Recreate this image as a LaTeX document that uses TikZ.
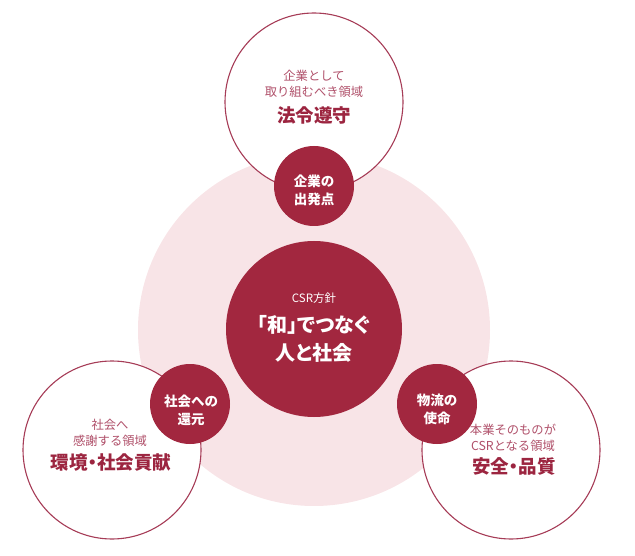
\documentclass[tikz,border=0pt]{standalone}
\usepackage{fontspec}
\setmainfont{Noto Sans CJK JP}
\newfontfamily\jpprop[RawFeature=+palt]{Noto Sans CJK JP}
\definecolor{darkred}{HTML}{A2273F}
\definecolor{pinkbg}{HTML}{F8E4E7}
\definecolor{ringline}{HTML}{A63C57}
\definecolor{softtext}{HTML}{B0506A}
\definecolor{strongtext}{HTML}{9C2540}
\begin{document}
\begin{tikzpicture}[x=1pt,y=-1pt,
  areacirc/.style={circle,draw=ringline,line width=1.1pt,fill=white,inner sep=0pt,minimum size=178pt},
  dotcirc/.style={circle,fill=darkred,inner sep=0pt,minimum size=80pt},
  subtext/.style={text=softtext,align=center,inner sep=0pt,font=\fontsize{12.3}{16.5}\selectfont},
  titletext/.style={text=strongtext,inner sep=0pt,font=\jpprop\fontsize{18.5}{22}\selectfont\bfseries},
  dottext/.style={text=white,align=center,inner sep=0pt,font=\fontsize{13.5}{18}\selectfont\bfseries},
  coretext/.style={text=white,align=center,inner sep=0pt,font=\jpprop\fontsize{20}{28}\selectfont\bfseries}]
\useasboundingbox (0,0) rectangle (635,556);
% background
\node[circle,fill=pinkbg,inner sep=0pt,minimum size=352pt] (bg) at (314,330) {};
% area circles
\node[areacirc] (topc) at (314,102) {};
\node[areacirc] (leftc) at (112,450) {};
\node[areacirc] (rightc) at (511,450) {};
% core
\node[circle,fill=darkred,inner sep=0pt,minimum size=176pt] (core) at (314,329) {};
% small circles
\node[dotcirc] (topd) at (314,186) {};
\node[dotcirc] (leftd) at (190,404) {};
\node[dotcirc] (rightd) at (437,404) {};
% texts top
\node[subtext] (topsub) at (314,84) {企業として\\取り組むべき領域};
\node[titletext] (toptitle) at (314,115) {法令遵守};
% texts left
\node[subtext] (leftsub) at (110,433) {社会へ\\感謝する領域};
\node[titletext] (lefttitle) at (111,463) {環境・社会貢献};
% texts right
\node[subtext] (rightsub) at (513,438) {本業そのものが\\CSRとなる領域};
\node[titletext] (righttitle) at (514,466) {安全・品質};
% core texts
\node[text=white,inner sep=0pt,font=\fontsize{11.5}{14}\selectfont] (corelabel) at (314,298) {CSR方針};
\node[coretext] (coretitle) at (314,339) {「和」でつなぐ\\人と社会};
% dot texts
\node[dottext] (topdt) at (314,190) {企業の\\出発点};
\node[dottext] (leftdt) at (191,410) {社会への\\還元};
\node[dottext] (rightdt) at (437,409) {物流の\\使命};
\end{tikzpicture}
\end{document}
